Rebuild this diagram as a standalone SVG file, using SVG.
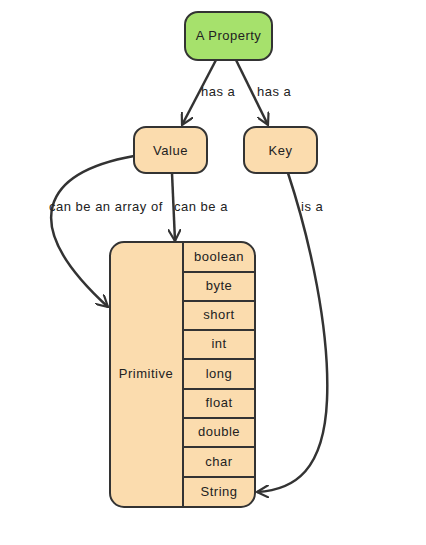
<svg xmlns="http://www.w3.org/2000/svg" width="426" height="545" viewBox="0 0 426 545">
<defs>
<style>
.n{stroke:#333;stroke-width:2;fill:#fbdcae}
.g{fill:#a6e16c}
.t{font-family:"Liberation Sans",Arial,sans-serif;font-size:13px;letter-spacing:0.5px;fill:#222;text-anchor:middle}
.l{font-family:"Liberation Sans",Arial,sans-serif;font-size:13px;letter-spacing:0.5px;fill:#222}
.e{fill:none;stroke:#333;stroke-width:2.5}
</style>
<marker id="a" viewBox="0 0 12 12" refX="11" refY="6" markerWidth="13" markerHeight="13" markerUnits="userSpaceOnUse" orient="auto">
<path d="M0,0 L11,6 L0,12" fill="none" stroke="#333" stroke-width="2"/>
</marker>
</defs>
<rect width="426" height="545" fill="#fff"/>
<g id="edges">
<path class="e" d="M216,60 L182,125" marker-end="url(#a)"/>
<path class="e" d="M236,60 L268,125" marker-end="url(#a)"/>
<path class="e" d="M172,173 L175,241" marker-end="url(#a)"/>
<path class="e" d="M134,156 C45,172 15,222 108,307" marker-end="url(#a)"/>
<path class="e" d="M288,173 C310,240 330,330 327,400 C324,470 295,490 257,492" marker-end="url(#a)"/>
<text class="l" x="201" y="96">has a</text>
<text class="l" x="257" y="96">has a</text>
<text class="l" x="49" y="211">can be an array of</text>
<text class="l" x="174" y="211">can be a</text>
<text class="l" x="301" y="211">is a</text>
</g>
<g id="property">
<rect class="n g" x="185" y="12" width="87" height="48" rx="13"/>
<text class="t" x="228.5" y="40">A Property</text>
</g>
<g id="value">
<rect class="n" x="134" y="127" width="73" height="46" rx="12"/>
<text class="t" x="170.5" y="155">Value</text>
</g>
<g id="key">
<rect class="n" x="244" y="127" width="73" height="46" rx="12"/>
<text class="t" x="280.5" y="155">Key</text>
</g>
<g id="primitive">
<rect class="n" x="110" y="242" width="145" height="265" rx="14"/>
<path d="M183,242 V507 M183,272 H255 M183,301 H255 M183,330 H255 M183,359 H255 M183,389 H255 M183,418 H255 M183,447 H255 M183,477 H255" stroke="#333" stroke-width="2" fill="none"/>
<text class="t" x="146" y="378">Primitive</text>
<text class="t" x="219" y="261">boolean</text>
<text class="t" x="219" y="290">byte</text>
<text class="t" x="219" y="319">short</text>
<text class="t" x="219" y="348">int</text>
<text class="t" x="219" y="378">long</text>
<text class="t" x="219" y="407">float</text>
<text class="t" x="219" y="436">double</text>
<text class="t" x="219" y="466">char</text>
<text class="t" x="219" y="496">String</text>
</g>
</svg>
